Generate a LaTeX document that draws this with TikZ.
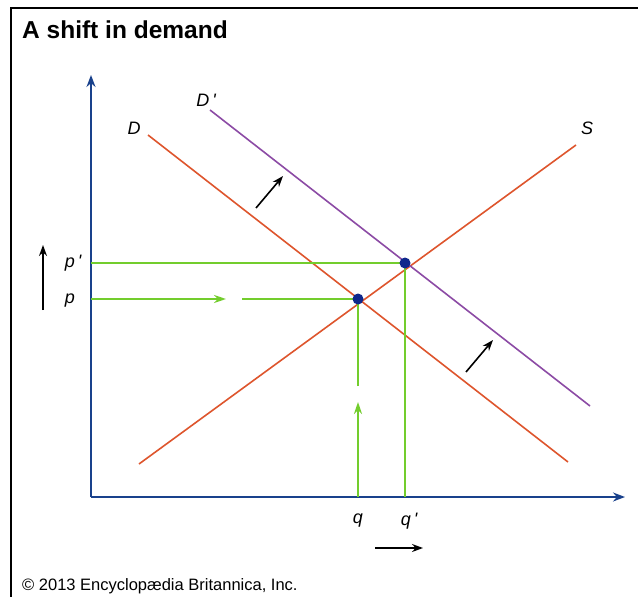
\documentclass[tikz,border=0pt]{standalone}
\usepackage{fontspec}
\setmainfont{Liberation Sans}
\usetikzlibrary{arrows.meta}
\definecolor{axisblue}{RGB}{25,65,140}
\definecolor{curvered}{RGB}{222,85,45}
\definecolor{curvepurple}{RGB}{140,75,165}
\definecolor{guidegreen}{RGB}{115,205,45}
\definecolor{dotblue}{RGB}{15,40,140}
\newcommand{\prm}{\,\textquotesingle}
\tikzset{
  axis/.style={axisblue, line width=1.7pt, -{Stealth[length=12pt,width=9pt]}},
  curve/.style={curvered, line width=1.6pt},
  dcurve/.style={curvepurple, line width=1.6pt},
  guide/.style={guidegreen, line width=2pt},
  garrow/.style={guidegreen, line width=2pt, -{Stealth[length=12pt,width=8pt]}},
  shiftarrow/.style={black, line width=1.6pt, -{Stealth[length=11pt,width=8pt]}},
  lbl/.style={font=\fontsize{18}{20}\selectfont\itshape, inner sep=0pt},
  dot/.style={circle, fill=dotblue, inner sep=0pt, minimum size=11pt},
}
\begin{document}
\begin{tikzpicture}[x=1pt,y=-1pt]
\useasboundingbox (0,0) rectangle (638,597);
\fill[white] (0,0) rectangle (638,597);
% frame
\draw[black, line width=2.6pt] (11,597) -- (11,8) -- (638,8);
% title
\node[anchor=base west, inner sep=0pt, font=\fontsize{24.5}{26}\selectfont\bfseries] (title) at (22,38) {A shift in demand};
\node[anchor=base west, inner sep=0pt, font=\fontsize{16.5}{18}\selectfont] (copy) at (22,590) {© 2013 Encyclopædia Britannica, Inc.};
% axes
\coordinate (O) at (91,497);
\coordinate (ytop) at (91,75);
\coordinate (xend) at (625,497);
\draw[axis] (O) -- (ytop);
\draw[axis] (O) -- (xend);
% curves
\coordinate (S1) at (139,464);
\coordinate (S2) at (576,145);
\coordinate (D1) at (148,135);
\coordinate (D2) at (568,462);
\coordinate (Dp1) at (210,110);
\coordinate (Dp2) at (590,406);
\draw[curve] (S1) -- (S2);
\draw[curve] (D1) -- (D2);
\draw[dcurve] (Dp1) -- (Dp2);
\node[lbl] (Slbl) at (587,128) {S};
\node[lbl] (Dlbl) at (134,128) {D};
\node[lbl] (Dplbl) at (206,100) {D\prm};
% equilibrium points
\coordinate (E) at (358,299);
\coordinate (Ep) at (405,263);
% guides
\coordinate (pax) at (91,299);
\coordinate (ppax) at (91,263);
\coordinate (qax) at (358,497);
\coordinate (qpax) at (405,497);
\coordinate (parr) at (226,299);
\coordinate (pgap) at (242,299);
\coordinate (qarr) at (358,402);
\coordinate (qgap) at (358,386);
\draw[guide] (ppax) -- (Ep);
\draw[guide] (Ep) -- (qpax);
\draw[garrow] (pax) -- (parr);
\draw[guide] (pgap) -- (E);
\draw[garrow] (qax) -- (qarr);
\draw[guide] (qgap) -- (E);
\node[dot] (Edot) at (E) {};
\node[dot] (Epdot) at (Ep) {};
% axis labels
\node[lbl] (plbl) at (70,301) {p};
\node[lbl] (pplbl) at (73,263) {p\prm};
\node[lbl] (qlbl) at (358,521) {q};
\node[lbl] (qplbl) at (409,521) {q\prm};
% shift arrows
\coordinate (a1s) at (43,310);
\coordinate (a1e) at (43,245);
\draw[shiftarrow] (a1s) -- (a1e);
\coordinate (a2s) at (375,548);
\coordinate (a2e) at (423,548);
\draw[shiftarrow] (a2s) -- (a2e);
\coordinate (a3s) at (256,208);
\coordinate (a3e) at (283,176);
\draw[shiftarrow] (a3s) -- (a3e);
\coordinate (a4s) at (466,372);
\coordinate (a4e) at (493,340);
\draw[shiftarrow] (a4s) -- (a4e);
\end{tikzpicture}
\end{document}
